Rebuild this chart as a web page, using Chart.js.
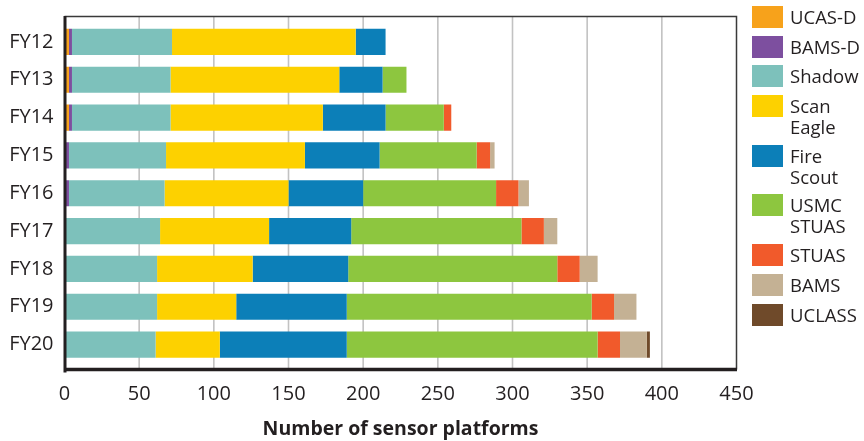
<!DOCTYPE html>
<html>
<head>
  <title>Sensor platforms by fiscal year</title>
  <script src="https://cdn.jsdelivr.net/npm/chart.js"></script>
  <style>
    body {
      margin: 0;
      background: #fff;
      font-family: "Open Sans", sans-serif;
    }
    #wrap {
      position: relative;
      width: 864px;
      height: 441px;
    }
    #legend {
      position: absolute;
      left: 752px;
      top: 6px;
      display: flex;
      flex-direction: column;
      gap: 7.7px;
    }
    .item {
      display: flex;
      align-items: flex-start;
      min-height: 22px;
    }
    .swatch {
      width: 31px;
      height: 22px;
      flex: none;
    }
    .label {
      margin-left: 7px;
      font-size: 18.5px;
      line-height: 21px;
      color: #231f20;
      white-space: pre;
    }
  </style>
</head>
<body>
  <div id="wrap">
    <canvas id="chart" width="864" height="441"></canvas>
    <div id="legend"></div>
  </div>

  <script>
    const years = ['FY12', 'FY13', 'FY14', 'FY15', 'FY16', 'FY17', 'FY18', 'FY19', 'FY20'];

    const ucasD     = [3, 3, 3, 0, 0, 0, 0, 0, 0];
    const bamsD     = [2, 2, 2, 3, 3, 0, 0, 0, 0];
    const shadow    = [67, 66, 66, 65, 64, 64, 62, 62, 61];
    const scanEagle = [123, 113, 102, 93, 83, 73, 64, 53, 43];
    const fireScout = [20, 29, 42, 50, 50, 55, 64, 74, 85];
    const usmcStuas = [0, 16, 39, 65, 89, 114, 140, 164, 168];
    const stuas     = [0, 0, 5, 9, 15, 15, 15, 15, 15];
    const bams      = [0, 0, 0, 3, 7, 9, 12, 15, 18];
    const uclass    = [0, 0, 0, 0, 0, 0, 0, 0, 2];

    const seriesNames = ['UCAS-D', 'BAMS-D', 'Shadow', 'Scan\nEagle', 'Fire\nScout', 'USMC\nSTUAS', 'STUAS', 'BAMS', 'UCLASS'];
    const seriesData = [ucasD, bamsD, shadow, scanEagle, fireScout, usmcStuas, stuas, bams, uclass];
    const seriesColors = ['#f7a21b', '#7d4f9f', '#7dc1bb', '#fdd100', '#0c7fb8', '#8dc63f', '#f15a2b', '#c4b194', '#6f4a2a'];

    const xTicks = [0, 50, 100, 150, 200, 250, 300, 350, 400, 450];

    const textColor = '#231f20';

    // gridlines and the box round the plot
    const framePlugin = {
      id: 'frame',
      beforeDatasetsDraw(chart) {
        const ctx = chart.ctx;
        const area = chart.chartArea;
        const x = chart.scales.x;
        ctx.save();
        ctx.strokeStyle = '#c2c2c2';
        ctx.lineWidth = 1.6;
        xTicks.forEach(v => {
          if (v === 0 || v === 450) return;
          const px = x.getPixelForValue(v);
          ctx.beginPath();
          ctx.moveTo(px, area.top - 6.5);
          ctx.lineTo(px, area.bottom + 6);
          ctx.stroke();
        });
        ctx.restore();
      },
      afterDatasetsDraw(chart) {
        const ctx = chart.ctx;
        const area = chart.chartArea;
        const top = area.top - 6.5;
        const bottom = area.bottom + 6;
        ctx.save();
        ctx.strokeStyle = '#3a3a3a';
        ctx.lineWidth = 1.5;
        ctx.beginPath();
        ctx.moveTo(area.left, top);
        ctx.lineTo(area.right, top);
        ctx.lineTo(area.right, bottom);
        ctx.stroke();
        ctx.strokeStyle = textColor;
        ctx.lineWidth = 3.5;
        ctx.beginPath();
        ctx.moveTo(area.left - 0.5, bottom);
        ctx.lineTo(area.right + 0.5, bottom);
        ctx.stroke();
        ctx.lineWidth = 3;
        ctx.beginPath();
        ctx.moveTo(area.left + 0.5, top - 0.5);
        ctx.lineTo(area.left + 0.5, bottom + 3);
        ctx.stroke();
        ctx.restore();
      }
    };

    const datasets = seriesNames.map((name, i) => ({
      label: name.replace('\n', ' '),
      data: seriesData[i],
      backgroundColor: seriesColors[i],
      borderWidth: 0,
      barPercentage: 27 / 39,
      categoryPercentage: 1
    }));

    new Chart(document.getElementById('chart'), {
      type: 'bar',
      data: { labels: years, datasets: datasets },
      options: {
        indexAxis: 'y',
        responsive: false,
        animation: false,
        layout: { padding: { top: 12.5, right: 127.5, left: 0, bottom: 0 } },
        plugins: {
          legend: { display: false },
          tooltip: { enabled: false }
        },
        scales: {
          x: {
            stacked: true,
            min: 0,
            max: 450,
            afterBuildTicks(scale) {
              scale.ticks = xTicks.map(v => ({ value: v }));
            },
            afterFit(scale) { scale.height = 77.5; },
            grid: { display: false, drawTicks: false },
            border: { display: false },
            ticks: {
              padding: 19,
              color: textColor,
              font: { family: 'Open Sans', size: 20 }
            },
            title: {
              display: true,
              text: 'Number of sensor platforms',
              color: textColor,
              font: { family: 'Open Sans', size: 19.5, weight: 'bold' },
              padding: { top: 0, bottom: 0 }
            }
          },
          y: {
            stacked: true,
            afterFit(scale) { scale.width = 64.5; },
            grid: { display: false, drawTicks: false },
            border: { display: false },
            ticks: {
              padding: 11,
              color: textColor,
              font: { family: 'Open Sans', size: 20 }
            }
          }
        }
      },
      plugins: [framePlugin]
    });

    // legend on the right, with two-line names
    const legend = document.getElementById('legend');
    seriesNames.forEach((name, i) => {
      const item = document.createElement('div');
      item.className = 'item';
      const sw = document.createElement('div');
      sw.className = 'swatch';
      sw.style.background = seriesColors[i];
      const lab = document.createElement('div');
      lab.className = 'label';
      lab.textContent = name;
      item.appendChild(sw);
      item.appendChild(lab);
      legend.appendChild(item);
    });
  </script>
</body>
</html>
